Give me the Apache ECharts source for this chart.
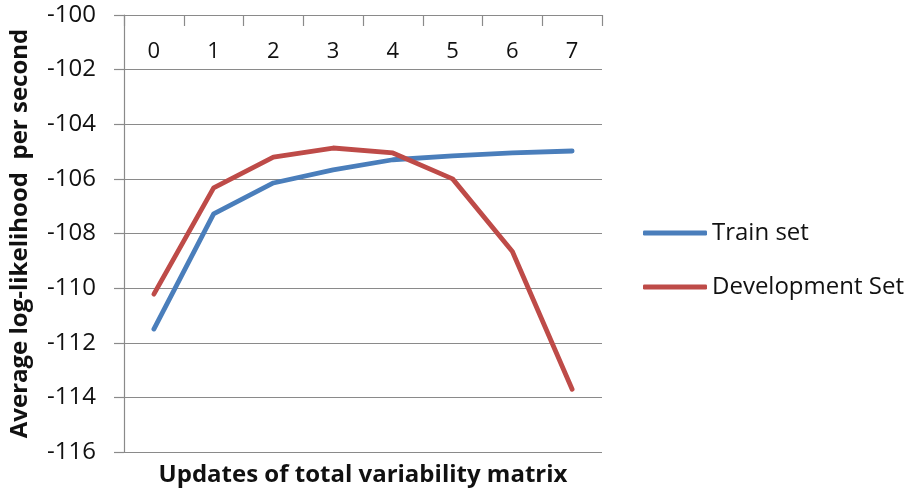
<!DOCTYPE html>
<html>
<head>
<meta charset="utf-8">
<script src="https://cdn.jsdelivr.net/npm/echarts@6/dist/echarts.min.js"></script>
<style>
  html, body { margin: 0; padding: 0; background: #ffffff; }
  #chart { width: 916px; height: 491px; }
</style>
</head>
<body>
<div id="chart"></div>
<script>
// Iterations of the total variability matrix update
const updates = ['0', '1', '2', '3', '4', '5', '6', '7'];

// Average log-likelihood per second for each data set
const trainSet = [-111.5, -107.28, -106.15, -105.67, -105.3, -105.16, -105.05, -104.98];
const developmentSet = [-110.22, -106.33, -105.2, -104.87, -105.05, -106.0, -108.66, -113.7];

// Value axis range and step
const yMin = -116;
const yMax = -100;
const yStep = 2;

const FONT = '"Open Sans", Lato, "Liberation Sans", sans-serif';
const TEXT = '#111111';
const GRID = '#8a8a8a';

const chart = echarts.init(document.getElementById('chart'), null, { renderer: 'canvas' });

chart.setOption({
  backgroundColor: '#ffffff',
  animation: false,
  textStyle: { fontFamily: FONT, color: TEXT },
  grid: { left: 124, right: 314, top: 15, bottom: 38, containLabel: false },
  legend: {
    orient: 'vertical',
    left: 638,
    top: 216,
    icon: 'roundRect',
    itemWidth: 64,
    itemHeight: 5,
    itemGap: 30,
    textStyle: { fontFamily: FONT, fontSize: 24, color: TEXT },
    data: ['Train set', 'Development Set']
  },
  xAxis: {
    type: 'category',
    position: 'top',
    data: updates,
    boundaryGap: true,
    name: 'Updates of total variability matrix',
    nameLocation: 'middle',
    nameGap: -472,
    nameTextStyle: { fontFamily: FONT, fontSize: 24, fontWeight: 'bold', color: TEXT },
    axisLine: { show: true, lineStyle: { color: GRID, width: 1.2 } },
    axisTick: { show: true, inside: true, length: 11, lineStyle: { color: GRID, width: 1.2 } },
    axisLabel: { inside: true, margin: 26, fontFamily: FONT, fontSize: 22, color: TEXT },
    splitLine: { show: false }
  },
  yAxis: {
    type: 'value',
    min: yMin,
    max: yMax,
    interval: yStep,
    name: 'Average log-likelihood  per second',
    nameLocation: 'middle',
    nameGap: 92,
    nameRotate: 90,
    nameTextStyle: { fontFamily: FONT, fontSize: 24, fontWeight: 'bold', color: TEXT },
    axisLine: { show: true, lineStyle: { color: GRID, width: 1.2 } },
    axisTick: { show: true, length: 10, lineStyle: { color: GRID, width: 1.2 } },
    axisLabel: { margin: 28, fontFamily: FONT, fontSize: 24, color: TEXT },
    splitLine: { show: true, lineStyle: { color: GRID, width: 1.2 } }
  },
  series: [
    {
      name: 'Train set',
      type: 'line',
      data: trainSet,
      showSymbol: false,
      symbol: 'none',
      lineStyle: { color: '#4a7ebb', width: 4.8, cap: 'round', join: 'round' },
      itemStyle: { color: '#4a7ebb' }
    },
    {
      name: 'Development Set',
      type: 'line',
      data: developmentSet,
      showSymbol: false,
      symbol: 'none',
      lineStyle: { color: '#be4b48', width: 4.8, cap: 'round', join: 'round' },
      itemStyle: { color: '#be4b48' }
    }
  ]
});
</script>
</body>
</html>
